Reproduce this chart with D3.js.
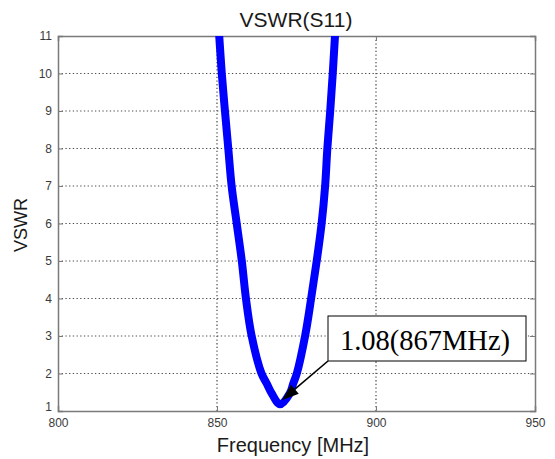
<!DOCTYPE html>
<html>
<head>
<meta charset="utf-8">
<script src="https://cdn.jsdelivr.net/npm/d3@7"></script>
<style>
  html, body { margin: 0; padding: 0; background: #fff; }
  svg { display: block; }
</style>
</head>
<body>
<svg id="chart" width="555" height="459"></svg>
<script>
// ---- data ----
const freqMHz = [849.9, 850.7, 851.5, 852.5, 853.55, 854.6, 856.2, 857.8, 859.1, 860.9, 864.0, 865.6, 867.2, 869.8,
                 872.9, 874.0, 875.1, 877.7, 879.6, 881.35, 882.9, 884.0, 884.7, 885.6, 886.4, 887.1, 887.8];
const vswr    = [12, 11, 10, 9, 8, 7, 6, 5, 4, 3, 2, 1.74, 1.47, 1.18,
                 1.47, 1.74, 2, 3, 4, 5, 6, 7, 8, 9, 10, 11, 12];
const xTicks = [800, 850, 900, 950];
const yTicks = [1, 2, 3, 4, 5, 6, 7, 8, 9, 10, 11];
const titleText = "VSWR(S11)";
const xLabel = "Frequency [MHz]";
const yLabel = "VSWR";
const annotationText = "1.08(867MHz)";
const annotationPoint = [869.8, 1.18];

// ---- layout ----
const svg = d3.select("#chart");
const L = 58, R = 535, T = 36, B = 411;
const x = d3.scaleLinear().domain([800, 950]).range([L, R]);
const y = d3.scaleLinear().domain([1, 11]).range([B, T]);

svg.append("rect").attr("width", 555).attr("height", 459).attr("fill", "#fff");

const defs = svg.append("defs");
defs.append("clipPath").attr("id", "plotclip")
  .append("rect").attr("x", L).attr("y", T).attr("width", R - L).attr("height", B - T);

// grid
const grid = svg.append("g");
grid.selectAll("line.gx").data(xTicks.filter(d => d > 800 && d < 950)).join("line")
  .attr("x1", d => x(d)).attr("x2", d => x(d)).attr("y1", T).attr("y2", B)
  .attr("stroke", "#4a4a4a").attr("stroke-width", 1.2).attr("stroke-dasharray", "1.3,2.4");
grid.selectAll("line.gy").data(yTicks.filter(d => d > 1 && d < 11)).join("line")
  .attr("y1", d => y(d)).attr("y2", d => y(d)).attr("x1", L).attr("x2", R)
  .attr("stroke", "#4a4a4a").attr("stroke-width", 1.2).attr("stroke-dasharray", "1.3,2.4");

// axes (MATLAB style: inward ticks, box)
const axisColor = "#7a7a7a";
const xb = svg.append("g").attr("transform", `translate(0,${B})`)
  .call(d3.axisBottom(x).tickValues(xTicks).tickSize(-5).tickPadding(9).tickFormat(d3.format("d")));
const xt = svg.append("g").attr("transform", `translate(0,${T})`)
  .call(d3.axisTop(x).tickValues(xTicks).tickSize(-5).tickFormat(""));
const yl = svg.append("g").attr("transform", `translate(${L},0)`)
  .call(d3.axisLeft(y).tickValues(yTicks).tickSize(-5).tickPadding(6).tickFormat(d3.format("d")));
const yr = svg.append("g").attr("transform", `translate(${R},0)`)
  .call(d3.axisRight(y).tickValues(yTicks).tickSize(-5).tickFormat(""));
[xb, xt, yl, yr].forEach(g => {
  g.select(".domain").attr("stroke", axisColor).attr("stroke-width", 1.5);
  g.selectAll(".tick line").attr("stroke", axisColor).attr("stroke-width", 1);
  g.selectAll(".tick text").attr("fill", "#3a3a3a")
    .style("font-family", "'Liberation Sans', Arial, sans-serif").style("font-size", "12px");
});
xb.selectAll(".tick text").attr("dy", "0.6em");
yl.selectAll(".tick text").filter(d => d === 1).attr("dy", "-0.05em");

// curve
const line = d3.line().curve(d3.curveCatmullRom.alpha(0.5))
  .x((d, i) => x(freqMHz[i])).y((d, i) => y(vswr[i]));
svg.append("path")
  .datum(vswr)
  .attr("d", line)
  .attr("clip-path", "url(#plotclip)")
  .attr("fill", "none")
  .attr("stroke", "#0000ff")
  .attr("stroke-width", 8)
  .attr("stroke-linejoin", "round")
  .attr("stroke-linecap", "butt");

// titles
svg.append("text").attr("x", 296).attr("y", 27).attr("text-anchor", "middle")
  .style("font-family", "'Liberation Sans', Arial, sans-serif").style("font-size", "21px")
  .attr("fill", "#1a1a1a").text(titleText);
svg.append("text").attr("x", 293).attr("y", 452).attr("text-anchor", "middle")
  .style("font-family", "'Liberation Sans', Arial, sans-serif").style("font-size", "20px")
  .attr("fill", "#1a1a1a").text(xLabel);
svg.append("text").attr("transform", "translate(27,225) rotate(-90)").attr("text-anchor", "middle")
  .style("font-family", "'Liberation Sans', Arial, sans-serif").style("font-size", "18px")
  .attr("fill", "#1a1a1a").text(yLabel);

// annotation arrow
const bx = 328, by = 316, bw = 198, bh = 45;
const sx = bx, sy = by + bh;
const tx = x(annotationPoint[0]) + 2, ty = y(annotationPoint[1]) - 4;
const ang = Math.atan2(ty - sy, tx - sx);
const headLen = 17, headHalf = 6;
const bxp = tx - headLen * Math.cos(ang), byp = ty - headLen * Math.sin(ang);
svg.append("line")
  .attr("x1", sx).attr("y1", sy).attr("x2", bxp).attr("y2", byp)
  .attr("stroke", "#000").attr("stroke-width", 1.6);
svg.append("path")
  .attr("d", `M${tx},${ty} L${bxp - headHalf * Math.sin(ang)},${byp + headHalf * Math.cos(ang)} ` +
             `L${bxp + headHalf * Math.sin(ang)},${byp - headHalf * Math.cos(ang)} Z`)
  .attr("fill", "#000");

// annotation box
svg.append("rect").attr("x", bx).attr("y", by).attr("width", bw).attr("height", bh)
  .attr("fill", "#fff").attr("stroke", "#000").attr("stroke-width", 1);
svg.append("text").attr("x", bx + bw / 2 - 2).attr("y", by + 34).attr("text-anchor", "middle")
  .style("font-family", "'Liberation Serif', 'Times New Roman', serif").style("font-size", "28.5px")
  .attr("fill", "#000").text(annotationText);
</script>
</body>
</html>
